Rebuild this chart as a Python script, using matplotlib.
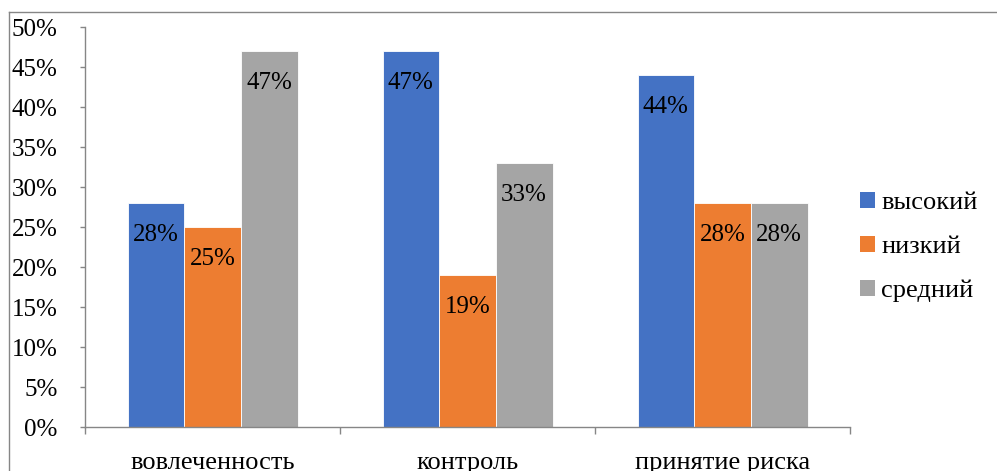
import numpy as np
import matplotlib.pyplot as plt
from matplotlib.lines import Line2D
from matplotlib.patches import Patch

plt.rcParams['font.family'] = ['Liberation Serif', 'DejaVu Serif']

# -----------------------------------------------------------
# Data
# -----------------------------------------------------------
categories = ["вовлеченность", "контроль", "принятие риска"]
series_names = ["высокий", "низкий", "средний"]
high = [28, 47, 44]
low = [25, 19, 28]
mid = [47, 33, 28]
colors = ["#4472C4", "#ED7D31", "#A5A5A5"]

W, H = 997, 471
fig = plt.figure(figsize=(W / 100, H / 100), dpi=100)

# axes box in pixels: x 85..850, y 27..427
ax = fig.add_axes([85 / W, 1 - 427 / H, 765 / W, 400 / H])

x = np.arange(len(categories))
bw = 1 / 4.5
for i, (vals, name, col) in enumerate(zip([high, low, mid], series_names, colors)):
    pos = x + (i - 1) * bw
    bars = ax.bar(pos, vals, width=bw, color=col, edgecolor="white",
                  linewidth=0.6, label=name, zorder=2)
    for b, v in zip(bars, vals):
        ax.annotate(f"{v}%", (b.get_x() + b.get_width() / 2, v),
                    xytext=(0, -32), textcoords="offset pixels",
                    ha="center", va="center", fontsize=18, color="black")

ax.set_xlim(-0.5, len(categories) - 0.5)
ax.set_ylim(0, 50)
ax.set_yticks(np.arange(0, 51, 5))
ax.set_yticklabels([f"{t}%" for t in range(0, 51, 5)], fontsize=18)
ax.set_xticks(x)
ax.set_xticklabels(categories, fontsize=19)
ax.set_xticks(np.arange(-0.5, len(categories)), minor=True)

ax.tick_params(axis="x", which="major", length=0, pad=18)
ax.tick_params(axis="x", which="minor", length=5, color="#868686", width=1)
ax.tick_params(axis="y", length=3.6, color="#868686", width=1, pad=16)

for s in ["top", "right"]:
    ax.spines[s].set_visible(False)
for s in ["left", "bottom"]:
    ax.spines[s].set_color("#868686")
    ax.spines[s].set_linewidth(1)

handles = [Patch(facecolor=c, edgecolor="none") for c in colors]
fig.legend(handles, series_names, loc="center left",
           bbox_to_anchor=(860 / W, 1 - 247 / H), frameon=False,
           fontsize=19, handlelength=0.55, handleheight=0.55,
           handletextpad=0.25, labelspacing=0.82, borderpad=0,
           borderaxespad=0)

# outer chart border (top and left visible)
fig.add_artist(Line2D([9 / W, 1], [1 - 12 / H, 1 - 12 / H],
                      transform=fig.transFigure, color="#868686", lw=1))
fig.add_artist(Line2D([9 / W, 9 / W], [0, 1 - 12 / H],
                      transform=fig.transFigure, color="#868686", lw=1))

fig.savefig("out.png", dpi=100)
